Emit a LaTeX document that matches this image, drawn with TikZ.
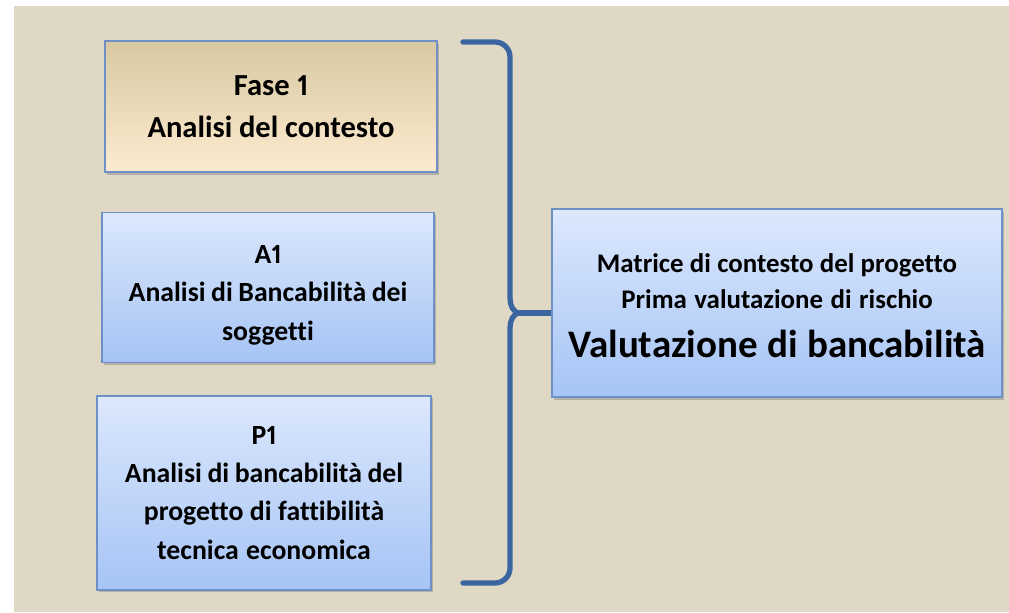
\documentclass[tikz,border=0pt]{standalone}
\usepackage{fontspec}
\setmainfont{Carlito}[Ligatures=NoCommon, Numbers=Proportional]
\usepackage{xcolor}
\usepackage{tikz}
\usetikzlibrary{shadows}
\usetikzlibrary{positioning}

\definecolor{sfondo}{HTML}{DED8C5}
\definecolor{bordo}{HTML}{6F90C6}
\definecolor{graffa}{HTML}{3B65A0}
\definecolor{fasetop}{HTML}{D8C8A2}
\definecolor{fasemid}{HTML}{F3E9D5}
\definecolor{fasebot}{HTML}{FDEBCF}
\definecolor{bluetop}{HTML}{DCE8FD}
\definecolor{bluemid}{HTML}{C6D9FB}
\definecolor{bluebot}{HTML}{A6C4F5}

\begin{document}
\begin{tikzpicture}[node distance = 0.7cm, auto,
			fase/.style={
					rectangle,
					draw=bordo,
					line width=0.8pt,
					top color=fasetop,
					middle color=fasemid,
					bottom color=fasebot,
					text width=6.64cm,
					minimum height=2.62cm,
					align=center,
					inner sep=0pt,
					font=\fontsize{17.4}{24}\selectfont\bfseries,
					execute at begin node={\spaceskip=0.15em plus 0.1em\relax},
					drop shadow={shadow xshift=1.2pt, shadow yshift=-1.5pt, opacity=0.45}
				},
			analisi/.style={
					fase,
					top color=bluetop,
					middle color=bluemid,
					bottom color=bluebot,
					font=\fontsize{15.8}{21.8}\selectfont\bfseries
				},
			graffa/.style={draw=graffa, line width=3pt, line cap=round}
		]
		% background
		\useasboundingbox (0,0) rectangle (20.18,-12.24);
		\fill[sfondo] (0.28,-0.12) rectangle (20.18,-12.24);
		% Place nodes
		\node [fase] (fase1) at (5.42,-2.13) {Fase\kern-2pt\ 1\\ Analisi del contesto};
		\node [analisi, below=0.78cm of fase1, xshift=-0.06cm, minimum height=3cm] (a1) {\rule{0pt}{19pt}A1\\ Analisi di Bancabilità dei\\ soggetti};
		\node [analisi, below=0.64cm of a1, xshift=-0.08cm, text width=6.68cm, minimum height=3.88cm] (p1) {P1\\ Analisi di bancabilità del\\ progetto di fattibilità\\ tecnica economica};
		\node [analisi, text width=9cm, minimum height=3.76cm, font=\fontsize{15.3}{20}\selectfont\bfseries] (esito) at (15.54,-6.06) {\rule{0pt}{14pt}Matrice di contesto del progetto\\ Prima valutazione di rischio\\[8pt] {\fontsize{22.2}{28}\selectfont\spaceskip=0.24em\relax Valutazione di bancabilità}};
		% Draw brace
		\coordinate (punta) at (10.4,-6.26);
		\draw [graffa] (9.26,-0.84) -- (9.9,-0.84) to[out=0,in=90] (10.2,-1.14) -- (10.2,-5.96) to[out=-90,in=180] (punta);
		\draw [graffa] (punta) to[out=180,in=90] (10.2,-6.56) -- (10.2,-11.36) to[out=-90,in=0] (9.9,-11.66) -- (9.26,-11.66);
		\draw [graffa, line cap=butt] (punta) -- (punta -| esito.west);
	\end{tikzpicture}
\end{document}
